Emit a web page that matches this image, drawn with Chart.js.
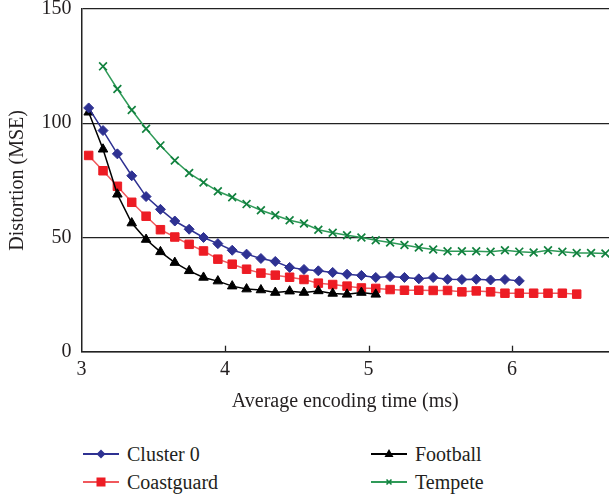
<!DOCTYPE html>
<html>
<head>
<meta charset="utf-8">
<script src="https://cdn.jsdelivr.net/npm/chart.js@4/dist/chart.umd.min.js"></script>
<style>
  html, body { margin: 0; padding: 0; background: #fff; overflow: hidden; }
  #wrap { position: relative; width: 609px; height: 496px; }
  #chartBox { position: absolute; left: 0; top: 0; width: 609px; height: 430px; }
  .leg { position: absolute; display: flex; align-items: center; font-family: 'Liberation Serif', serif; font-size: 20px; color: #231f20; white-space: nowrap; }
  .leg svg { margin-right: 8px; }
</style>
</head>
<body>
<div id="wrap">
  <div id="chartBox"><canvas id="distChart"></canvas></div>
  <div id="legend"></div>
</div>
<script>
// encoding time (ms) for each measured point
const times = [3.05, 3.15, 3.25, 3.35, 3.45, 3.55, 3.65, 3.75, 3.85, 3.95,
               4.05, 4.15, 4.25, 4.35, 4.45, 4.55, 4.65, 4.75, 4.85, 4.95,
               5.05, 5.15, 5.25, 5.35, 5.45, 5.55, 5.65, 5.75, 5.85, 5.95,
               6.05, 6.15, 6.25, 6.35, 6.45, 6.55, 6.65];

// distortion (MSE), null where the sequence has no point
const cluster0 = [106.7, 96.8, 86.6, 77.0, 67.9, 62.3, 57.2, 53.6, 50.0, 47.3,
                  44.4, 42.7, 40.8, 39.5, 36.9, 36.0, 35.4, 34.7, 33.9, 33.4,
                  32.5, 32.9, 32.5, 31.9, 32.5, 31.7, 31.6, 31.7, 31.4, 31.6,
                  31.0, null, null, null, null, null, null];
const coastguard = [85.9, 79.2, 72.4, 65.4, 59.3, 53.4, 50.2, 47.0, 44.1, 40.5,
                    38.3, 36.1, 34.4, 33.5, 32.6, 31.6, 30.0, 29.4, 28.7, 27.9,
                    27.7, 27.2, 26.9, 26.9, 26.8, 26.8, 26.2, 26.6, 26.2, 25.6,
                    25.6, 25.6, 25.6, 25.6, 25.2, null, null];
const football = [104.8, 88.6, 68.9, 56.3, 49.1, 43.7, 39.0, 35.4, 32.5, 30.9,
                  28.7, 27.4, 27.0, 25.9, 26.5, 25.9, 26.6, 25.5, 25.1, 25.9,
                  25.1, null, null, null, null, null, null, null, null, null,
                  null, null, null, null, null, null, null];
const tempete = [null, 124.9, 115.0, 105.8, 97.6, 90.3, 83.7, 78.2, 74.1, 70.2,
                 67.6, 64.6, 61.9, 59.7, 57.5, 56.1, 53.4, 52.1, 51.0, 50.0,
                 48.8, 47.8, 46.7, 45.6, 44.7, 44.0, 44.0, 44.0, 43.7, 44.4,
                 43.8, 43.4, 44.4, 43.7, 43.2, 43.2, 43.0];

const xTicks = [3, 4, 5, 6];
const yTicks = [0, 50, 100, 150];

const FONT = "'Liberation Serif', 'Times New Roman', serif";
const INK = '#231f20';

function pts(vals) {
  return times.map((t, i) => ({ x: t, y: vals[i] })).filter(p => p.y !== null);
}

const series = [
  { label: 'Cluster 0', data: cluster0, line: '#2e3192', mark: '#2e3192', style: 'rectRot', r: 5 },
  { label: 'Football', data: football, line: '#000000', mark: '#000000', style: 'triangle', r: 5.5 },
  { label: 'Coastguard', data: coastguard, line: '#f0585c', mark: '#ed1c24', style: 'rect', r: 6 },
  { label: 'Tempete', data: tempete, line: '#2f9a58', mark: '#11813e', style: 'crossRot', r: 5.5 }
];

// little tick marks pointing up into the plot on the x axis
const innerTicks = {
  id: 'innerTicks',
  afterDraw(chart) {
    const ctx = chart.ctx, xs = chart.scales.x, b = chart.chartArea.bottom;
    ctx.save();
    ctx.strokeStyle = '#222';
    ctx.lineWidth = 1.3;
    xTicks.slice(1).forEach(v => {
      const px = Math.round(xs.getPixelForValue(v)) + 0.5;
      ctx.beginPath();
      ctx.moveTo(px, b);
      ctx.lineTo(px, b - 6);
      ctx.stroke();
    });
    ctx.restore();
  }
};

new Chart(document.getElementById('distChart'), {
  type: 'line',
  data: {
    datasets: series.map(s => ({
      label: s.label,
      data: pts(s.data),
      borderColor: s.line,
      borderWidth: 1.5,
      backgroundColor: s.mark,
      pointStyle: s.style,
      pointRadius: s.r,
      pointBorderColor: s.mark,
      pointBackgroundColor: s.mark,
      pointBorderWidth: s.style === 'crossRot' ? 1.7 : 1,
      tension: 0,
      fill: false,
      clip: false
    }))
  },
  options: {
    responsive: true,
    maintainAspectRatio: false,
    animation: false,
    layout: { autoPadding: false, padding: { top: 9, right: 0, left: 0, bottom: 0 } },
    plugins: { legend: { display: false }, tooltip: { enabled: false } },
    scales: {
      x: {
        type: 'linear',
        min: 3, max: 6.675,
        afterBuildTicks: s => { s.ticks = xTicks.map(v => ({ value: v })); },
        afterFit: s => { s.height = 78.3; s.paddingLeft = 0; s.paddingRight = 0; },
        grid: { display: false, drawTicks: false, tickLength: 0 },
        border: { display: true, color: '#222', width: 1.5 },
        ticks: { color: INK, font: { family: FONT, size: 20 }, padding: 6, maxRotation: 0 },
        title: { display: true, text: 'Average encoding time (ms)', color: INK,
                 font: { family: FONT, size: 20 }, padding: { top: 0, bottom: 16 } }
      },
      y: {
        min: 0, max: 150,
        afterBuildTicks: s => { s.ticks = yTicks.map(v => ({ value: v })); },
        afterFit: s => { s.width = 81.5; s.paddingTop = 0; s.paddingBottom = 0; },
        grid: { color: '#222', lineWidth: 1.3, drawTicks: false },
        border: { display: true, color: '#222', width: 1.5 },
        ticks: { color: INK, font: { family: FONT, size: 20 }, padding: 10 },
        title: { display: true, text: 'Distortion (MSE)', color: INK,
                 font: { family: FONT, size: 20 }, padding: { top: 5.5, bottom: 0 } }
      }
    }
  },
  plugins: [innerTicks]
});

// legend laid out in two columns like the original
function markerSvg(s) {
  let m = '';
  const c = s.mark;
  if (s.style === 'rectRot') m = `<polygon points="18,1.5 22.5,6 18,10.5 13.5,6" fill="${c}"/>`;
  else if (s.style === 'rect') m = `<rect x="13.5" y="1.5" width="9" height="9" fill="${c}"/>`;
  else if (s.style === 'triangle') m = `<polygon points="18,1 22.5,9 13.5,9" fill="${c}"/>`;
  else m = `<path d="M15.5 3.5 L20.5 8.5 M20.5 3.5 L15.5 8.5" stroke="${c}" stroke-width="1.6"/>`;
  return `<svg width="36" height="12" viewBox="0 0 36 12"><line x1="0" y1="6" x2="36" y2="6" stroke="${s.line}" stroke-width="1.8"/>${m}</svg>`;
}
const legPos = { 'Cluster 0': [83, 454], 'Football': [371, 454], 'Coastguard': [83, 482], 'Tempete': [371, 482] };
document.getElementById('legend').innerHTML = series.map(s => {
  const [x, y] = legPos[s.label];
  return `<div class="leg" style="left:${x}px;top:${y - 14}px;height:28px">${markerSvg(s)}<span>${s.label}</span></div>`;
}).join('');
</script>
</body>
</html>
